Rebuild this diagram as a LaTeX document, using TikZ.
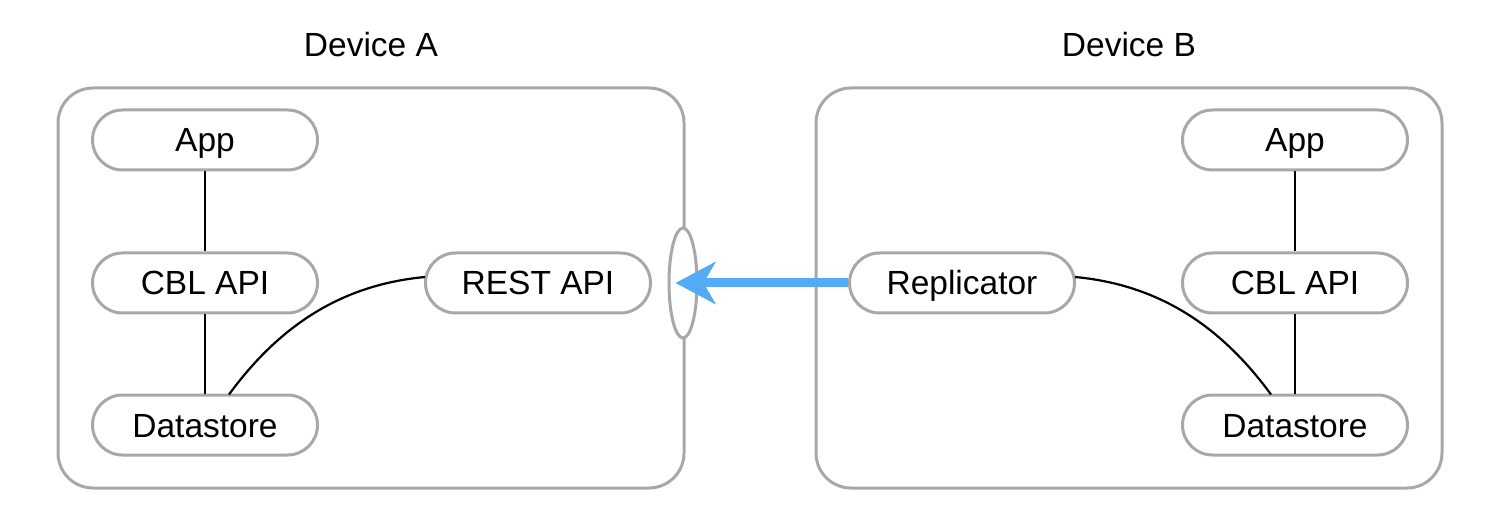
\documentclass[tikz,border=0pt]{standalone}
\usepackage{fontspec}
\setmainfont{Liberation Sans}
\usetikzlibrary{shapes.geometric,arrows.meta}
\definecolor{boxgray}{HTML}{A8A8A8}
\definecolor{arrowblue}{HTML}{55AAF5}
\tikzset{
  device/.style={draw=boxgray,line width=3pt,rounded corners=35pt},
  pill/.style={draw=boxgray,line width=3pt,rounded corners=30pt,minimum width=225pt,minimum height=60pt,inner sep=0pt,text height=24pt,text depth=0pt,font=\fontsize{33.5}{38}\selectfont,fill=white},
  title/.style={text height=24pt,text depth=0pt,font=\fontsize{33.5}{38}\selectfont},
  link/.style={draw=black,line width=2.2pt},
  port/.style={ellipse,draw=boxgray,line width=3pt,fill=white,minimum width=28pt,minimum height=110pt,inner sep=0pt},
  flow/.style={draw=arrowblue,line width=9pt,-{Stealth[length=40pt,width=42pt,inset=12pt]}}
}
\begin{document}
\begin{tikzpicture}[x=1pt,y=-1pt]
\useasboundingbox[fill=white] (0,0) rectangle (1500,521);
% device boxes
\draw[device] (58,88) rectangle (684,488);
\draw[device] (816,88) rectangle (1442,488);
\node[title] (tA) at (371,45) {Device A};
\node[title] (tB) at (1129,45) {Device B};
% Device A
\node[pill] (appA) at (205,140) {App};
\node[pill] (cblA) at (205,283) {CBL API};
\node[pill] (dsA) at (205,425) {Datastore};
\node[pill] (rest) at (538,283) {REST API};
\node[port] (port) at (683,283) {};
% Device B
\node[pill] (appB) at (1295,140) {App};
\node[pill] (cblB) at (1295,283) {CBL API};
\node[pill] (dsB) at (1295,425) {Datastore};
\node[pill] (repl) at (962,283) {Replicator};
% links
\draw[link] (appA.south) -- (cblA.north);
\draw[link] (cblA.south) -- (dsA.north);
\draw[link] (appB.south) -- (cblB.north);
\draw[link] (cblB.south) -- (dsB.north);
\draw[link] ([xshift=24pt,yshift=-1pt]dsA.north) .. controls (285,318) and (350,284) .. ([xshift=1pt,yshift=6pt]rest.west);
\draw[link] ([xshift=-1pt,yshift=6pt]repl.east) .. controls (1150,284) and (1215,318) .. ([xshift=-24pt,yshift=-1pt]dsB.north);
% replication arrow
\draw[flow] (repl.west) -- ([xshift=8pt]port.west);
\end{tikzpicture}
\end{document}
